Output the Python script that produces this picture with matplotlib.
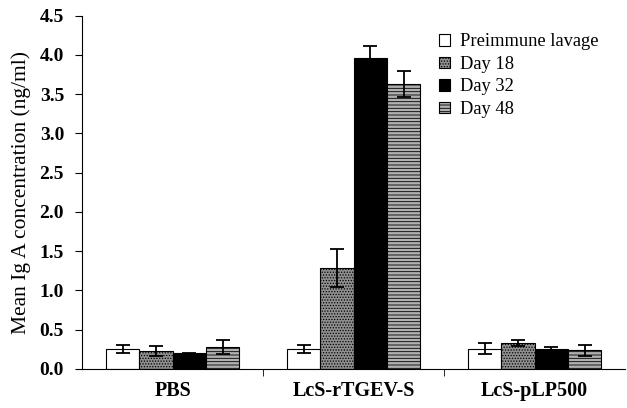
import matplotlib
matplotlib.use("Agg")
import matplotlib.pyplot as plt
import numpy as np

groups = ["PBS", "LcS-rTGEV-S", "LcS-pLP500"]
series = ["Preimmune lavage", "Day 18", "Day 32", "Day 48"]
values = {
    "Preimmune lavage": [0.25, 0.25, 0.26],
    "Day 18": [0.23, 1.29, 0.33],
    "Day 32": [0.20, 3.96, 0.25],
    "Day 48": [0.28, 3.63, 0.24],
}
errors = {
    "Preimmune lavage": [0.05, 0.05, 0.07],
    "Day 18": [0.06, 0.24, 0.04],
    "Day 32": [0.01, 0.15, 0.03],
    "Day 48": [0.09, 0.16, 0.07],
}
yticks = [0.0, 0.5, 1.0, 1.5, 2.0, 2.5, 3.0, 3.5, 4.0, 4.5]

plt.rcParams['font.family'] = ['Liberation Serif', 'DejaVu Serif']
plt.rcParams['hatch.linewidth'] = 0.6

styles = {
    "Preimmune lavage": dict(facecolor="white", hatch=None),
    "Day 18": dict(facecolor="#8f8f8f", hatch="......"),
    "Day 32": dict(facecolor="black", hatch=None),
    "Day 48": dict(facecolor="#b0b0b0", hatch="-----"),
}

fig = plt.figure(figsize=(6.27, 4.08), dpi=100)
ax = fig.add_axes([0.131, 0.0956, 0.866, 0.866])

x = np.arange(len(groups)) + 0.5
w = 0.184
for i, s in enumerate(series):
    pos = x + (i - 1.5) * w
    st = styles[s]
    ax.bar(pos, values[s], width=w, facecolor=st["facecolor"], edgecolor="black",
           linewidth=0.8, hatch=st["hatch"], label=s,
           yerr=errors[s], error_kw=dict(ecolor="black", elinewidth=1.3, capsize=5, capthick=1.3))

ax.set_xlim(0, 3)
ax.set_ylim(0, 4.5)
ax.set_yticks(yticks)
ax.set_yticklabels([f"{v:.1f}" for v in yticks], fontweight="bold", fontsize=14)
ax.set_xticks(x)
ax.set_xticklabels(groups, fontweight="bold", fontsize=14.5)
ax.tick_params(axis="x", which="major", length=0, pad=9)
ax.set_xticks([1, 2], minor=True)
ax.tick_params(axis="x", which="minor", length=5, direction="out")
ax.tick_params(axis="y", length=5, direction="out", pad=8)
ax.spines["top"].set_visible(False)
ax.spines["right"].set_visible(False)
ax.set_ylabel("Mean Ig A concentration (ng/ml)", fontsize=15.5, labelpad=6)

leg = ax.legend(loc="upper left", bbox_to_anchor=(0.627, 0.997), frameon=False,
                fontsize=13.3, handlelength=0.6, handleheight=0.6, handletextpad=0.55,
                labelspacing=0.3)

fig.savefig("out.png", dpi=100)
